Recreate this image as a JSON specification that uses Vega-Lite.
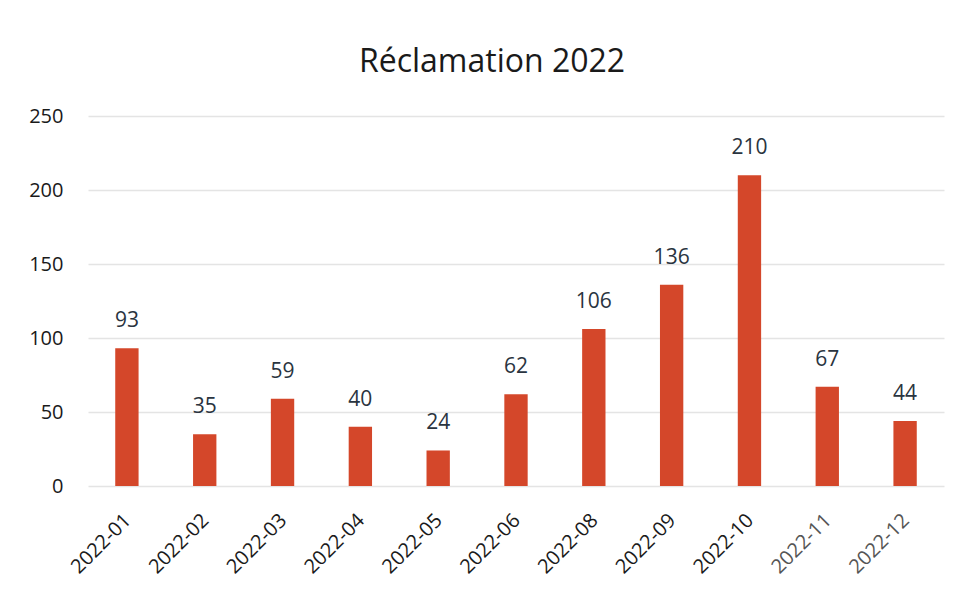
{
  "$schema": "https://vega.github.io/schema/vega-lite/v6.json",
  "width": 856,
  "height": 370,
  "autosize": {"type": "none"},
  "padding": {"left": 88, "top": 116, "right": 15, "bottom": 103},
  "background": "white",
  "title": {
    "text": "Réclamation 2022",
    "font": "Open Sans",
    "fontSize": 32,
    "fontWeight": "normal",
    "color": "#1a1a1a",
    "anchor": "middle",
    "dx": -24,
    "offset": 27
  },
  "data": {
    "values": [
      {"mois": "2022-01", "n": 93},
      {"mois": "2022-02", "n": 35},
      {"mois": "2022-03", "n": 59},
      {"mois": "2022-04", "n": 40},
      {"mois": "2022-05", "n": 24},
      {"mois": "2022-06", "n": 62},
      {"mois": "2022-08", "n": 106},
      {"mois": "2022-09", "n": 136},
      {"mois": "2022-10", "n": 210},
      {"mois": "2022-11", "n": 67},
      {"mois": "2022-12", "n": 44}
    ]
  },
  "encoding": {
    "x": {
      "field": "mois",
      "type": "nominal",
      "sort": null,
      "title": null,
      "scale": {"paddingInner": 0.7, "paddingOuter": 0.35},
      "axis": {
        "labelAngle": -45,
        "labelAlign": "right",
        "labelBaseline": "middle",
        "labelFont": "Open Sans",
        "labelFontSize": 20,
        "labelColor": {"condition": {"test": "datum.value == '2022-11' || datum.value == '2022-12'", "value": "#555555"}, "value": "#1a1a1a"},
        "labelPadding": 31,
        "labelOffset": 1,
        "ticks": false,
        "domain": false,
        "grid": false
      }
    },
    "y": {
      "field": "n",
      "type": "quantitative",
      "title": null,
      "scale": {"domain": [0, 250]},
      "axis": {
        "values": [0, 50, 100, 150, 200, 250],
        "labelFont": "Open Sans",
        "labelFontSize": 20,
        "labelColor": "#1a1a1a",
        "labelPadding": 25,
        "ticks": false,
        "domain": false,
        "grid": true,
        "gridColor": "#e4e4e4",
        "gridWidth": 1.5
      }
    }
  },
  "layer": [
    {"mark": {"type": "bar", "color": "#d4472a"}},
    {
      "mark": {"type": "text", "dy": -27, "font": "Open Sans", "fontSize": 21, "color": "#2a3440"},
      "encoding": {"text": {"field": "n", "type": "quantitative"}}
    }
  ],
  "config": {"view": {"stroke": null}}
}
